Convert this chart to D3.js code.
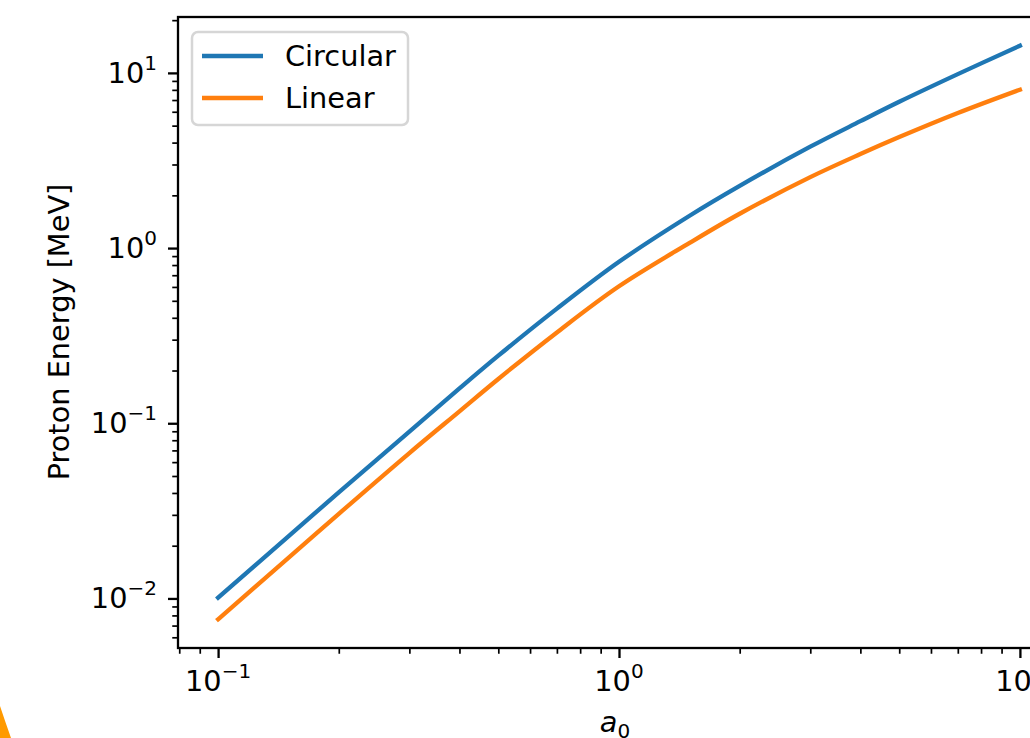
<html>
  <head>
    <meta charset="utf-8">
    <title>Proton Energy vs a0</title>
    <script src="https://d3js.org/d3.v7.min.js"></script>
    <style>
      body { margin: 0; background: #fff; }
      svg { display: block; font-family: 'DejaVu Sans', sans-serif; }
    </style>
  </head>
  <body>
    <script>
      // values
      var a0 = [0.1, 0.15, 0.2, 0.3, 0.4, 0.5, 0.7, 1, 1.5, 2, 3, 4, 5, 7, 10];
      var circular = [0.0101, 0.0227, 0.0403, 0.0897, 0.158, 0.243, 0.451, 0.835, 1.53, 2.265, 3.79, 5.30, 6.84, 9.84, 14.3];
      var linear = [0.0076, 0.0171, 0.0304, 0.0676, 0.117, 0.179, 0.33, 0.605, 1.07, 1.57, 2.54, 3.44, 4.30, 5.90, 8.02];
      var seriesNames = ["Circular", "Linear"];
      var seriesColors = ["#1f77b4", "#ff7f0e"];
      var xMajor = [0.1, 1, 10];
      var xMajorExp = ["\u22121", "0", "1"];
      var yMajor = [0.01, 0.1, 1, 10];
      var yMajorExp = ["\u22122", "\u22121", "0", "1"];

      var width = 1030, height = 738;
      var plotL = 178, plotT = 17, plotR = 1060, plotB = 648;
      var fs = 28.8;

      var svg = d3.select("body").append("svg")
        .attr("width", width)
        .attr("height", height);

      // matplotlib style 5% margins in log space
      function logPad(vals) {
        var lo = Math.log10(d3.min(vals)), hi = Math.log10(d3.max(vals));
        var m = (hi - lo) * 0.05;
        return [Math.pow(10, lo - m), Math.pow(10, hi + m)];
      }

      var x = d3.scaleLog().domain(logPad(a0)).range([plotL, plotR]);
      var y = d3.scaleLog().domain(logPad(circular.concat(linear))).range([plotB, plotT]);

      function minorTicks(scale) {
        var d = scale.domain(), out = [];
        for (var e = -4; e <= 3; e++) {
          for (var k = 2; k <= 9; k++) {
            var v = k * Math.pow(10, e);
            if (v >= d[0] && v <= d[1]) out.push(v);
          }
        }
        return out;
      }

      // orange shape in lower left corner
      svg.append("path")
        .attr("d", "M0,706 Q5,721 11,738 L0,738 Z")
        .attr("fill", "#ff9a00");

      // axes
      var xAxisMinor = d3.axisBottom(x).tickValues(minorTicks(x)).tickSize(5.75).tickFormat("");
      var xAxisMajor = d3.axisBottom(x).tickValues(xMajor).tickSize(10).tickFormat("");
      var yAxisMinor = d3.axisLeft(y).tickValues(minorTicks(y)).tickSize(5.75).tickFormat("");
      var yAxisMajor = d3.axisLeft(y).tickValues(yMajor).tickSize(10).tickFormat("");

      var gx1 = svg.append("g").attr("transform", "translate(0," + plotB + ")").call(xAxisMinor);
      var gx2 = svg.append("g").attr("transform", "translate(0," + plotB + ")").call(xAxisMajor);
      var gy1 = svg.append("g").attr("transform", "translate(" + plotL + ",0)").call(yAxisMinor);
      var gy2 = svg.append("g").attr("transform", "translate(" + plotL + ",0)").call(yAxisMajor);
      [gx1, gx2, gy1, gy2].forEach(function(g) { g.select(".domain").remove(); });
      gx1.selectAll("line").attr("stroke-width", 1.7);
      gy1.selectAll("line").attr("stroke-width", 1.7);
      gx2.selectAll("line").attr("stroke-width", 2.3);
      gy2.selectAll("line").attr("stroke-width", 2.3);

      // x tick labels 10^n
      svg.append("g").selectAll("text")
        .data(xMajor)
        .join("text")
        .attr("x", function(d) { return x(d); })
        .attr("y", 691)
        .attr("text-anchor", "middle")
        .attr("font-size", fs)
        .each(function(d, i) {
          var t = d3.select(this);
          t.append("tspan").text("10");
          t.append("tspan").attr("font-size", 20).attr("dy", -13).text(xMajorExp[i]);
        });

      // y tick labels
      svg.append("g").selectAll("text")
        .data(yMajor)
        .join("text")
        .attr("x", 157)
        .attr("y", function(d) { return y(d) + 10; })
        .attr("text-anchor", "end")
        .attr("font-size", fs)
        .each(function(d, i) {
          var t = d3.select(this);
          t.append("tspan").text("10");
          t.append("tspan").attr("font-size", 20).attr("dy", -13).text(yMajorExp[i]);
        });

      // curves
      var series = [circular, linear];
      var line = d3.line()
        .x(function(d, i) { return x(a0[i]); })
        .y(function(d) { return y(d); })
        .curve(d3.curveCatmullRom.alpha(0.5));

      svg.append("g").selectAll("path")
        .data(series)
        .join("path")
        .attr("d", line)
        .attr("fill", "none")
        .attr("stroke", function(d, i) { return seriesColors[i]; })
        .attr("stroke-width", 4.3)
        .attr("stroke-linecap", "square");

      // frame
      svg.append("rect")
        .attr("x", plotL).attr("y", plotT)
        .attr("width", plotR - plotL).attr("height", plotB - plotT)
        .attr("fill", "none")
        .attr("stroke", "#000")
        .attr("stroke-width", 2.3);

      // legend
      var lg = svg.append("g");
      lg.append("rect")
        .attr("x", 192).attr("y", 32)
        .attr("width", 216).attr("height", 93)
        .attr("rx", 6)
        .attr("fill", "#fff").attr("fill-opacity", 0.8)
        .attr("stroke", "#d6d6d6").attr("stroke-width", 2.5);
      seriesNames.forEach(function(name, i) {
        var yy = 56 + i * 42;
        lg.append("line")
          .attr("x1", 202).attr("x2", 263)
          .attr("y1", yy).attr("y2", yy)
          .attr("stroke", seriesColors[i])
          .attr("stroke-width", 4.3);
        lg.append("text")
          .attr("x", 285).attr("y", yy + 10)
          .attr("font-size", fs)
          .text(name);
      });

      // axis labels
      svg.append("text")
        .attr("transform", "translate(69,332) rotate(-90)")
        .attr("text-anchor", "middle")
        .attr("font-size", fs)
        .text("Proton Energy [MeV]");

      var xl = svg.append("text")
        .attr("x", 615).attr("y", 732)
        .attr("text-anchor", "middle")
        .attr("font-size", fs);
      xl.append("tspan").attr("font-style", "italic").text("a");
      xl.append("tspan").attr("font-size", 20).attr("dy", 6).text("0");
    </script>
  </body>
</html>
